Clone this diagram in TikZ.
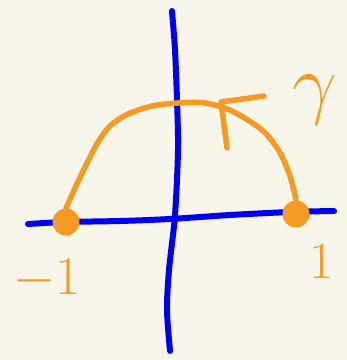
\documentclass[tikz,border=0pt]{standalone}
\usepackage{xcolor}
\usepackage{tikz}
\usetikzlibrary{arrows.meta,positioning,calc}
\definecolor{paper}{HTML}{F8F5EA}
\definecolor{penblue}{HTML}{0000F2}
\definecolor{penorange}{HTML}{F59B24}

\begin{document}
\begin{tikzpicture}[
  x=1pt,y=-1pt,
  axis/.style={draw=penblue,line width=6pt,line cap=round,line join=round},
  stroke/.style={draw=penorange,line width=5.5pt,line cap=round,line join=round},
  dot/.style={circle,fill=penorange,inner sep=0pt,minimum size=27pt},
  lbl/.style={text=penorange,inner sep=0pt,font=\Huge}
]
\fill[paper] (0,0) rectangle (347,360);
\useasboundingbox (0,0) rectangle (347,360);
% axes
\draw[axis] plot[smooth] coordinates {(28,224) (65,222) (120,221) (170,219) (230,215) (290,212) (334,211)};
\draw[axis] plot[smooth] coordinates {(172,11) (175,50) (177,100) (178,150) (175,215) (169,270) (167,310) (170,351)};
% points and labels
\node[dot] (pm1) at (66,222) {};
\node[dot] (p1) at (296,214) {};
\node[lbl,scale=2.2] (lm1) at (47,279) {$-1$};
\node[lbl,scale=2.1] (l1) at (321,262) {$1$};
\node[lbl,scale=3.2] (lg) at (315,100) {$\gamma$};
% the path gamma
\draw[stroke] plot[smooth] coordinates {(p1.north) (290,176) (279,151) (262,130) (232,111) (205,103) (178,103) (152,106) (128,114) (110,126) (98,142) (86,165) (76,186) (pm1.north)};
\coordinate (tip) at (221,102);
\draw[stroke] ([shift={(6,46)}]tip) -- (tip) -- ++(43,-6);
\end{tikzpicture}
\end{document}
